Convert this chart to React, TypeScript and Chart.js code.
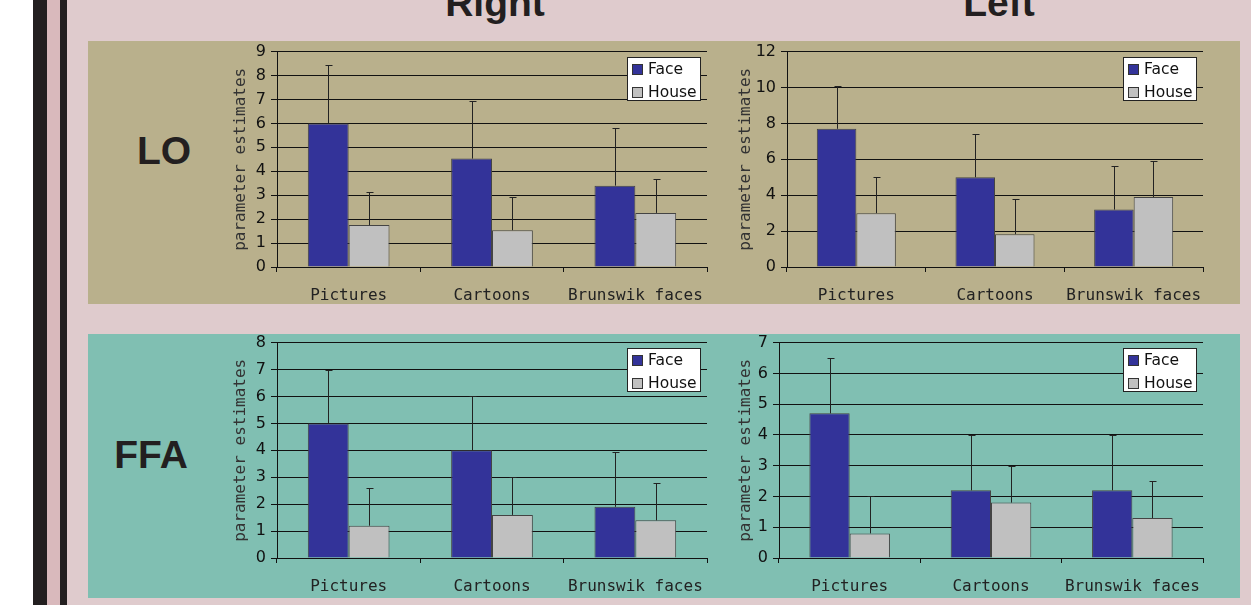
import React, { useEffect, useRef } from "react";
import { Chart, registerables } from "chart.js";

Chart.register(...registerables);

// Shared categories and series
const categories = ["Pictures", "Cartoons", "Brunswik faces"];
const seriesLabels = ["Face", "House"];
const seriesColors = ["#333399", "#c0c0c0"];

// LO, right hemisphere
const loRightFace = [6.0, 4.53, 3.4];
const loRightHouse = [1.75, 1.54, 2.26];
const loRightFaceErr = [2.42, 2.4, 2.42];
const loRightHouseErr = [1.39, 1.4, 1.43];

// LO, left hemisphere
const loLeftFace = [7.7, 5.0, 3.2];
const loLeftHouse = [3.0, 1.83, 3.9];
const loLeftFaceErr = [2.4, 2.4, 2.43];
const loLeftHouseErr = [2.0, 1.97, 2.03];

// FFA, right hemisphere
const ffaRightFace = [5.0, 4.0, 1.9];
const ffaRightHouse = [1.2, 1.6, 1.4];
const ffaRightFaceErr = [2.0, 2.0, 2.04];
const ffaRightHouseErr = [1.4, 1.4, 1.4];

// FFA, left hemisphere
const ffaLeftFace = [4.7, 2.2, 2.2];
const ffaLeftHouse = [0.8, 1.8, 1.3];
const ffaLeftFaceErr = [1.8, 1.8, 1.8];
const ffaLeftHouseErr = [1.2, 1.2, 1.2];

// y-axis ranges (max, step)
const loRightY = [9, 1];
const loLeftY = [12, 2];
const ffaRightY = [8, 1];
const ffaLeftY = [7, 1];

const yTitle = "parameter estimates";
const columnTitles = ["Right", "Left"];
const rowTitles = ["LO", "FFA"];

const INK = "#111111";

// Upward-only error bars with a small cap
const errorBars = {
  id: "errorBars",
  afterDatasetsDraw(chart: any) {
    const { ctx } = chart;
    const yScale = chart.scales.y;
    ctx.save();
    ctx.strokeStyle = "#222222";
    ctx.lineWidth = 1;
    chart.data.datasets.forEach((ds: any, i: number) => {
      const meta = chart.getDatasetMeta(i);
      meta.data.forEach((bar: any, j: number) => {
        const v = ds.data[j];
        const e = ds.errors[j];
        const x = Math.round(bar.x) + 0.5;
        const y0 = bar.y;
        const y1 = Math.round(yScale.getPixelForValue(v + e)) + 0.5;
        ctx.beginPath();
        ctx.moveTo(x, y0);
        ctx.lineTo(x, y1);
        ctx.moveTo(x - 3, y1);
        ctx.lineTo(x + 4, y1);
        ctx.stroke();
      });
    });
    ctx.restore();
  },
};

// Boxed legend in the top-right corner of the plot area
const boxLegend = {
  id: "boxLegend",
  afterDraw(chart: any) {
    const { ctx, chartArea } = chart;
    const w = 74;
    const h = 44;
    const x = Math.round(chartArea.right - 6 - w);
    const y = Math.round(chartArea.top + 5);
    ctx.save();
    ctx.fillStyle = "#ffffff";
    ctx.fillRect(x, y, w, h);
    ctx.strokeStyle = "#222222";
    ctx.lineWidth = 1;
    ctx.strokeRect(x + 0.5, y + 0.5, w - 1, h - 1);
    chart.data.datasets.forEach((ds: any, i: number) => {
      const cy = y + 12 + i * 22.5;
      ctx.fillStyle = ds.backgroundColor;
      ctx.fillRect(x + 5, Math.round(cy - 5), 11, 11);
      ctx.strokeStyle = "#333333";
      ctx.strokeRect(x + 5.5, Math.round(cy - 5) + 0.5, 10, 10);
      ctx.fillStyle = INK;
      ctx.font = '15.5px "DejaVu Sans"';
      ctx.textBaseline = "middle";
      ctx.textAlign = "left";
      ctx.fillText(ds.label, x + 21, cy + 1);
    });
    ctx.restore();
  },
};

type BarPanelProps = {
  face: number[];
  house: number[];
  faceErr: number[];
  houseErr: number[];
  yRange: number[];
  areaLeft: number;
  areaTop: number;
  areaRight: number;
  areaBottom: number;
  titleCenter: number;
};

function BarPanel(p: BarPanelProps) {
  const ref = useRef<HTMLCanvasElement | null>(null);
  const padRight = 22;
  const left = p.titleCenter - 16;
  const top = p.areaTop - 14;
  const width = p.areaRight + padRight - left;
  const xAxisHeight = 38;
  const height = p.areaBottom + xAxisHeight - top;
  const yAxisWidth = p.areaLeft - left;

  useEffect(() => {
    if (!ref.current) return;
    const chart = new Chart(ref.current, {
      type: "bar",
      data: {
        labels: categories,
        datasets: [
          {
            label: seriesLabels[0],
            data: p.face,
            errors: p.faceErr,
            backgroundColor: seriesColors[0],
            borderColor: "#444444",
            borderWidth: 1,
            barPercentage: 1,
            categoryPercentage: 0.57,
          } as any,
          {
            label: seriesLabels[1],
            data: p.house,
            errors: p.houseErr,
            backgroundColor: seriesColors[1],
            borderColor: "#444444",
            borderWidth: 1,
            barPercentage: 1,
            categoryPercentage: 0.57,
          } as any,
        ],
      },
      options: {
        responsive: false,
        animation: false,
        devicePixelRatio: 1,
        layout: { padding: { top: 14, right: padRight, bottom: 0, left: 0 } },
        plugins: {
          legend: { display: false },
          tooltip: { enabled: false },
        },
        scales: {
          x: {
            type: "category",
            offset: true,
            grid: {
              offset: true,
              drawOnChartArea: false,
              drawTicks: true,
              tickLength: 5,
              color: INK,
            },
            border: { display: true, color: INK, width: 1 },
            ticks: {
              color: "#222222",
              font: { family: '"DejaVu Sans Mono"', size: 16 },
              padding: 14,
              maxRotation: 0,
              autoSkip: false,
            },
            afterFit: (s: any) => {
              s.height = xAxisHeight;
            },
          },
          y: {
            min: 0,
            max: p.yRange[0],
            ticks: {
              stepSize: p.yRange[1],
              color: INK,
              font: { family: '"DejaVu Sans"', size: 16 },
              padding: 5,
            },
            grid: { color: INK, lineWidth: 1, tickLength: 6, drawTicks: true },
            border: { display: true, color: INK, width: 1 },
            title: {
              display: true,
              text: yTitle,
              color: "#333333",
              font: { family: '"DejaVu Sans Mono"', size: 16 },
              padding: { top: 6, bottom: 0 },
            },
            afterFit: (s: any) => {
              s.width = yAxisWidth;
            },
          },
        },
      } as any,
      plugins: [errorBars, boxLegend],
    });
    return () => chart.destroy();
  }, []);

  return (
    <canvas
      ref={ref}
      width={width}
      height={height}
      style={{ position: "absolute", left, top, width, height, display: "block" }}
    />
  );
}

const headingStyle: React.CSSProperties = {
  position: "absolute",
  fontFamily: '"Liberation Sans", Arial, sans-serif',
  fontWeight: "bold",
  fontSize: 39,
  lineHeight: "39px",
  color: "#231f20",
  textAlign: "center",
  whiteSpace: "nowrap",
};

export default function App() {
  return (
    <div
      style={{
        position: "absolute",
        left: 0,
        top: 0,
        width: 1251,
        height: 605,
        overflow: "hidden",
        background: "#ffffff",
      }}
    >
      {/* page background and left border stripes */}
      <div style={{ position: "absolute", left: 67, top: 0, width: 1184, height: 605, background: "#dfcbcd" }} />
      <div style={{ position: "absolute", left: 33, top: 0, width: 14, height: 605, background: "#231f20" }} />
      <div style={{ position: "absolute", left: 47, top: 0, width: 13, height: 605, background: "#d9b9bc" }} />
      <div style={{ position: "absolute", left: 60, top: 0, width: 7, height: 605, background: "#231f20" }} />

      {/* row panels */}
      <div style={{ position: "absolute", left: 88, top: 41, width: 1152, height: 263, background: "#b9b08c" }} />
      <div style={{ position: "absolute", left: 88, top: 334, width: 1152, height: 264, background: "#80bfb2" }} />

      {/* column and row headings */}
      <div style={{ ...headingStyle, left: 395, top: -17, width: 200 }}>{columnTitles[0]}</div>
      <div style={{ ...headingStyle, left: 899, top: -17, width: 200 }}>{columnTitles[1]}</div>
      <div style={{ ...headingStyle, left: 104, top: 131, width: 120 }}>{rowTitles[0]}</div>
      <div style={{ ...headingStyle, left: 91, top: 435, width: 120 }}>{rowTitles[1]}</div>

      <BarPanel
        face={loRightFace}
        house={loRightHouse}
        faceErr={loRightFaceErr}
        houseErr={loRightHouseErr}
        yRange={loRightY}
        areaLeft={277}
        areaTop={51}
        areaRight={707}
        areaBottom={267}
        titleCenter={241}
      />
      <BarPanel
        face={loLeftFace}
        house={loLeftHouse}
        faceErr={loLeftFaceErr}
        houseErr={loLeftHouseErr}
        yRange={loLeftY}
        areaLeft={787}
        areaTop={51}
        areaRight={1203}
        areaBottom={267}
        titleCenter={746}
      />
      <BarPanel
        face={ffaRightFace}
        house={ffaRightHouse}
        faceErr={ffaRightFaceErr}
        houseErr={ffaRightHouseErr}
        yRange={ffaRightY}
        areaLeft={277}
        areaTop={342}
        areaRight={707}
        areaBottom={558}
        titleCenter={241}
      />
      <BarPanel
        face={ffaLeftFace}
        house={ffaLeftHouse}
        faceErr={ffaLeftFaceErr}
        houseErr={ffaLeftHouseErr}
        yRange={ffaLeftY}
        areaLeft={779}
        areaTop={342}
        areaRight={1203}
        areaBottom={558}
        titleCenter={746}
      />
    </div>
  );
}
